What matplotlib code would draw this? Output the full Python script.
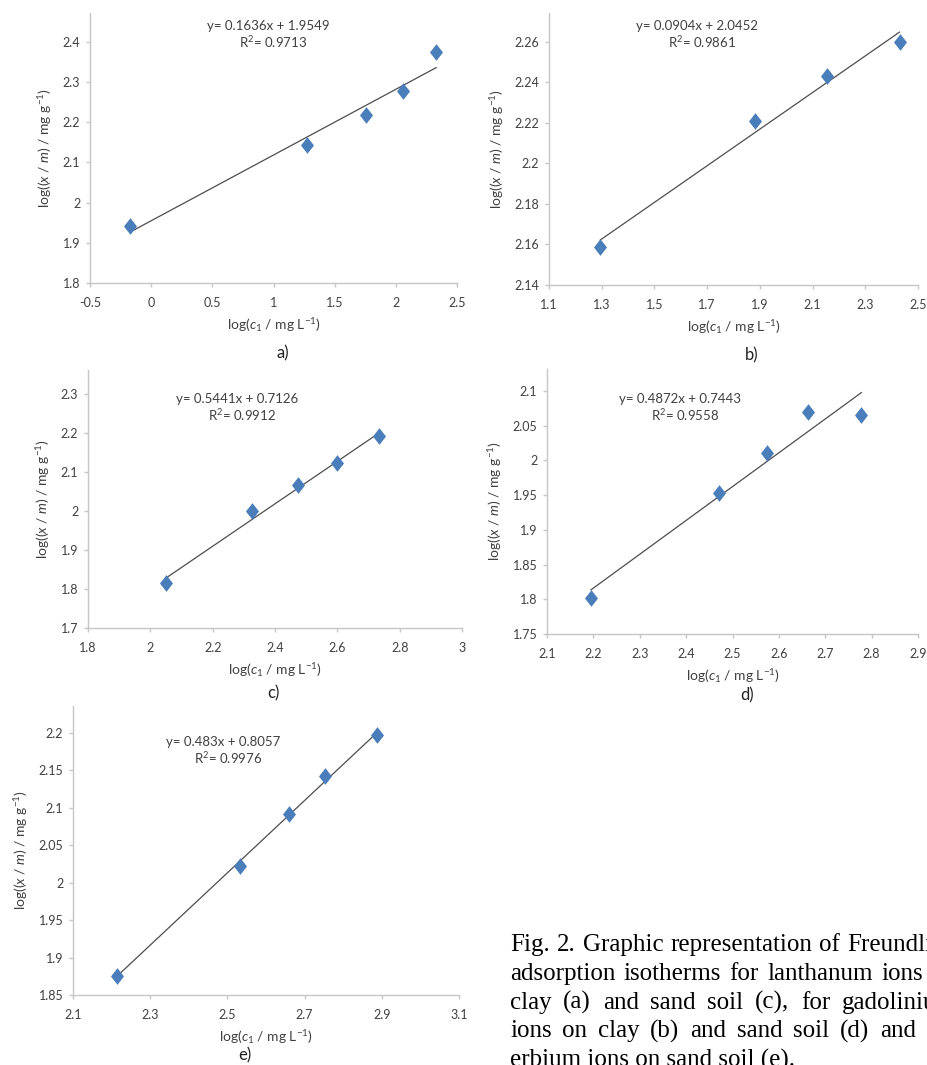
import matplotlib
matplotlib.use("Agg")
import matplotlib.pyplot as plt
from matplotlib.ticker import FuncFormatter
from matplotlib.path import Path

plt.rcParams['font.family'] = ['Lato', 'DejaVu Sans']
plt.rcParams['mathtext.fontset'] = 'custom'
plt.rcParams['mathtext.rm'] = 'Lato'
plt.rcParams['mathtext.it'] = 'Lato:italic'
plt.rcParams['mathtext.default'] = 'rm'

# ---- data ----
a_x = [-0.17, 1.27, 1.76, 2.06, 2.33]
a_y = [1.942, 2.143, 2.218, 2.279, 2.376]
a_slope, a_icpt, a_r2 = 0.1636, 1.9549, "0.9713"
a_xticks = [-0.5, 0, 0.5, 1, 1.5, 2, 2.5]
a_yticks = [1.8, 1.9, 2.0, 2.1, 2.2, 2.3, 2.4]

b_x = [1.295, 1.88, 2.155, 2.43]
b_y = [2.159, 2.221, 2.243, 2.260]
b_slope, b_icpt, b_r2 = 0.0904, 2.0452, "0.9861"
b_xticks = [1.1, 1.3, 1.5, 1.7, 1.9, 2.1, 2.3, 2.5]
b_yticks = [2.14, 2.16, 2.18, 2.20, 2.22, 2.24, 2.26]

c_x = [2.05, 2.325, 2.475, 2.60, 2.735]
c_y = [1.815, 1.999, 2.067, 2.122, 2.192]
c_slope, c_icpt, c_r2 = 0.5441, 0.7126, "0.9912"
c_xticks = [1.8, 2.0, 2.2, 2.4, 2.6, 2.8, 3.0]
c_yticks = [1.7, 1.8, 1.9, 2.0, 2.1, 2.2, 2.3]

d_x = [2.195, 2.47, 2.575, 2.662, 2.778]
d_y = [1.802, 1.953, 2.010, 2.070, 2.066]
d_slope, d_icpt, d_r2 = 0.4872, 0.7443, "0.9558"
d_xticks = [2.1, 2.2, 2.3, 2.4, 2.5, 2.6, 2.7, 2.8, 2.9]
d_yticks = [1.75, 1.8, 1.85, 1.9, 1.95, 2.0, 2.05, 2.1]

e_x = [2.215, 2.532, 2.66, 2.752, 2.888]
e_y = [1.876, 2.022, 2.092, 2.143, 2.197]
e_slope, e_icpt, e_r2 = 0.483, 0.8057, "0.9976"
e_xticks = [2.1, 2.3, 2.5, 2.7, 2.9, 3.1]
e_yticks = [1.85, 1.9, 1.95, 2.0, 2.05, 2.1, 2.15, 2.2]

panel_letters = ["a)", "b)", "c)", "d)", "e)"]
caption_lines = [
    "Fig. 2. Graphic representation of Freundlich",
    "adsorption isotherms for lanthanum ions on",
    "clay (a) and sand soil (c), for gadolinium",
    "ions on clay (b) and sand soil (d) and for",
    "erbium ions on sand soil (e).",
]

W, H = 927, 1065
fig = plt.figure(figsize=(W / 100, H / 100), dpi=100)

def px_axes(l, r, b, t):
    return fig.add_axes([l / W, (H - b) / H, (r - l) / W, (b - t) / H])

diamond = Path([(0, 1), (0.78, 0), (0, -1), (-0.78, 0), (0, 1)],
               [Path.MOVETO, Path.LINETO, Path.LINETO, Path.LINETO, Path.CLOSEPOLY])

MARK = '#4a7ebb'
AXC = '#c6c6c6'
TXT = '#404040'
fmt = FuncFormatter(lambda v, p: ('%g' % round(v, 4)))

panels = [
    dict(x=a_x, y=a_y, s=a_slope, i=a_icpt, r2=a_r2, xt=a_xticks, yt=a_yticks,
         box=(90, 457, 283, 13), ylim=(1.8, 2.472), eq=(268, 26), lab=(283, 353)),
    dict(x=b_x, y=b_y, s=b_slope, i=b_icpt, r2=b_r2, xt=b_xticks, yt=b_yticks,
         box=(549, 918, 285, 13), ylim=(2.14, 2.2743), eq=(697, 26), lab=(752, 355)),
    dict(x=c_x, y=c_y, s=c_slope, i=c_icpt, r2=c_r2, xt=c_xticks, yt=c_yticks,
         box=(88, 462, 628, 370), ylim=(1.7, 2.3615), eq=(237, 399), lab=(273, 693)),
    dict(x=d_x, y=d_y, s=d_slope, i=d_icpt, r2=d_r2, xt=d_xticks, yt=d_yticks,
         box=(547, 918, 634, 369), ylim=(1.75, 2.1317), eq=(680, 399), lab=(747, 695)),
    dict(x=e_x, y=e_y, s=e_slope, i=e_icpt, r2=e_r2, xt=e_xticks, yt=e_yticks,
         box=(73, 459, 995, 706), ylim=(1.85, 2.236), eq=(223, 742), lab=(245, 1055)),
]

ylabel = r'log(($\mathit{x}$ / $\mathit{m}$) / mg g$^{-1}$)'
xlabel = r'log($\mathit{c}_{\mathit{1}}$ / mg L$^{-1}$)'

for k, P in enumerate(panels):
    l, r, b, t = P['box']
    ax = px_axes(l, r, b, t)
    ax.set_xlim(P['xt'][0], P['xt'][-1])
    ax.set_ylim(*P['ylim'])
    ax.set_xticks(P['xt'])
    ax.set_yticks(P['yt'])
    ax.xaxis.set_major_formatter(fmt)
    ax.yaxis.set_major_formatter(fmt)
    for sp in ['top', 'right']:
        ax.spines[sp].set_visible(False)
    for sp in ['left', 'bottom']:
        ax.spines[sp].set_color(AXC)
        ax.spines[sp].set_linewidth(1.0)
    ax.tick_params(axis='both', colors=AXC, labelcolor=TXT, labelsize=9,
                   length=3, width=1.0, direction='out')
    ax.tick_params(axis='x', pad=7)
    ax.tick_params(axis='y', pad=4)
    ax.set_facecolor('none')
    xs = P['x']
    x0, x1 = xs[0], xs[-1]
    ax.plot([x0, x1], [P['s'] * x0 + P['i'], P['s'] * x1 + P['i']],
            color='#4d4d4d', lw=0.9, zorder=2)
    ax.plot(xs, P['y'], linestyle='none', marker=diamond, markersize=12,
            color=MARK, markeredgewidth=0, zorder=3, clip_on=False)
    ax.set_xlabel(xlabel, fontsize=10, color=TXT, labelpad=5)
    ax.set_ylabel(ylabel, fontsize=10, color=TXT, labelpad=6)
    ex, ey = P['eq']
    fig.text(ex / W, 1 - ey / H, 'y= %gx + %g' % (P['s'], P['i']),
             ha='center', va='center', fontsize=9.5, color=TXT)
    fig.text((ex + 5) / W, 1 - (ey + 16) / H, 'R$^{2}$= ' + P['r2'],
             ha='center', va='center', fontsize=9.5, color=TXT)
    lx, ly = P['lab']
    fig.text(lx / W, 1 - ly / H, panel_letters[k], ha='center', va='center',
             fontsize=12, color='#222222')

# ---- caption, justified ----
cap_font = dict(family='Liberation Serif', fontsize=18, color='black')
cap_left, cap_right = 510, 956
base0, lead = 951, 28.8
fig.canvas.draw()
renderer = fig.canvas.get_renderer()
for n, line in enumerate(caption_lines):
    yb = 1 - (base0 + n * lead) / H
    words = line.split(' ')
    last = (n == len(caption_lines) - 1)
    if last:
        fig.text(cap_left / W, yb, line, ha='left', va='baseline', **cap_font)
        continue
    widths = []
    objs = []
    for w in words:
        tobj = fig.text(0, yb, w, ha='left', va='baseline', **cap_font)
        bb = tobj.get_window_extent(renderer)
        widths.append(bb.width)
        objs.append(tobj)
    gap = (cap_right - cap_left - sum(widths)) / (len(words) - 1)
    xcur = cap_left
    for tobj, wd in zip(objs, widths):
        tobj.set_x(xcur / W)
        xcur += wd + gap

fig.savefig('out.png', dpi=100)
